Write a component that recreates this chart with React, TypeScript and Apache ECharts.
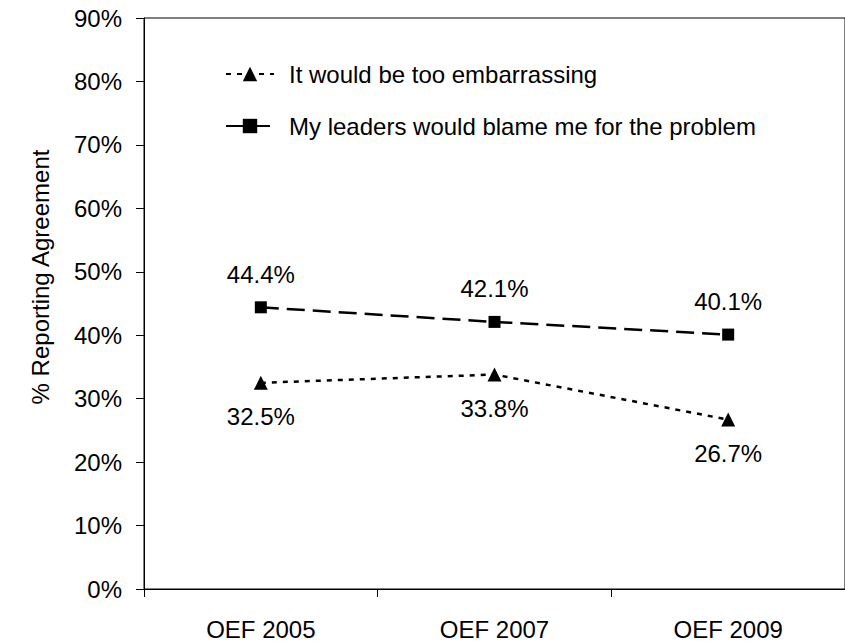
import React, { useEffect, useRef } from "react";
import * as echarts from "echarts";

const categories = ["OEF 2005", "OEF 2007", "OEF 2009"];
const embarrassing = [32.5, 33.8, 26.7];
const blame = [44.4, 42.1, 40.1];
const seriesNames = ["It would be too embarrassing", "My leaders would blame me for the problem"];
const yAxisTitle = "% Reporting Agreement";

const FONT = "'Liberation Sans', Arial, sans-serif";

export default function App() {
  const ref = useRef<HTMLDivElement>(null);
  useEffect(() => {
    if (!ref.current) return;
    const chart = echarts.init(ref.current, undefined, { renderer: "svg" });
    const labelStyle = {
      show: true,
      color: "#000",
      fontSize: 24,
      fontFamily: FONT,
      distance: 15,
      formatter: (p: any) => Number(p.value).toFixed(1) + "%",
    };
    chart.setOption({
      animation: false,
      backgroundColor: "#fff",
      textStyle: { fontFamily: FONT },
      grid: {
        left: 144,
        right: -2,
        top: 18,
        bottom: 52,
        show: true,
        borderColor: "#000",
        borderWidth: 1,
        backgroundColor: "transparent",
      },
      legend: {
        orient: "vertical",
        left: 220,
        top: 57,
        itemWidth: 48,
        itemHeight: 18,
        itemGap: 28,
        textStyle: { color: "#000", fontSize: 24, fontFamily: FONT, padding: [0, 0, 0, 10] },
        data: seriesNames,
      },
      graphic: [
        {
          type: "text",
          x: 40,
          y: 277,
          rotation: Math.PI / 2,
          style: {
            text: yAxisTitle,
            fontSize: 24,
            fontFamily: FONT,
            fill: "#000",
            textAlign: "center",
            textVerticalAlign: "middle",
          },
        },
      ],
      xAxis: {
        type: "category",
        data: categories,
        boundaryGap: true,
        axisLine: { lineStyle: { color: "#000", width: 1 } },
        axisTick: { show: true, length: 8, lineStyle: { color: "#000" } },
        axisLabel: { color: "#000", fontSize: 24, fontFamily: FONT, margin: 28 },
        splitLine: { show: false },
      },
      yAxis: {
        type: "value",
        min: 0,
        max: 90,
        interval: 10,
        axisLine: { show: true, lineStyle: { color: "#000", width: 1 } },
        axisTick: { show: true, length: 8, lineStyle: { color: "#000" } },
        axisLabel: { color: "#000", fontSize: 24, fontFamily: FONT, margin: 22, formatter: "{value}%" },
        splitLine: { show: false },
      },
      series: [
        {
          name: seriesNames[0],
          type: "line",
          data: embarrassing,
          symbol: "triangle",
          symbolSize: 14,
          itemStyle: { color: "#000" },
          lineStyle: { color: "#000", width: 2.5, type: [5, 6] },
          label: { ...labelStyle, position: "bottom" },
        },
        {
          name: seriesNames[1],
          type: "line",
          data: blame,
          symbol: "rect",
          symbolSize: 12,
          itemStyle: { color: "#000" },
          lineStyle: { color: "#000", width: 2.5, type: [18, 8] },
          label: { ...labelStyle, position: "top" },
        },
      ],
    });
    return () => chart.dispose();
  }, []);
  return <div ref={ref} style={{ width: 845, height: 641, position: "absolute", left: 0, top: 0 }} />;
}
